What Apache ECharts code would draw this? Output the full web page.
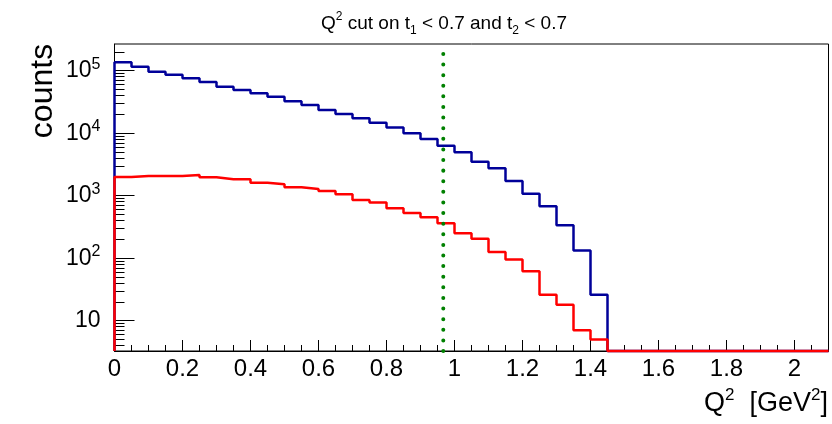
<!DOCTYPE html>
<html>
<head>
<meta charset="utf-8">
<title>Q2 cut</title>
<script src="https://cdn.jsdelivr.net/npm/echarts@6/dist/echarts.min.js"></script>
<style>
html, body { margin: 0; padding: 0; background: #fff; }
#chart { width: 832px; height: 424px; }
</style>
</head>
<body>
<div id="chart"></div>
<script>
// Q^2 histograms, 42 bins of 0.05 GeV^2 from 0 to 2.1
const binWidth = 0.05
const allCounts = [
  136000, 116000, 96400, 86300, 75500, 65900, 55400, 49100, 43500, 38400,
  32400, 28300, 23500, 20300, 17300, 14700, 12300, 10000, 8070, 6310,
  4940, 3500, 2740, 1720, 1076, 676, 336, 132, 26, 0,
  0, 0, 0, 0, 0, 0, 0, 0, 0, 0, 0, 0
]
const cutCounts = [
  1990, 2065, 2065, 2065, 2140, 1967, 1828, 1828, 1614, 1521,
  1361, 1279, 1188, 1052, 853, 778, 628, 528, 451, 361,
  250, 205, 126, 95, 62, 26, 18, 7, 5, 0,
  0, 0, 0, 0, 0, 0, 0, 0, 0, 0, 0, 0
]
const cutValue = [0.967]
const xMajorTicks = [0, 0.2, 0.4, 0.6, 0.8, 1, 1.2, 1.4, 1.6, 1.8, 2]
const yMajorTicks = [10, 100, 1000, 10000, 100000]
const yRange = [3.27, 267000]
const xRange = [0, 2.1]

const xMinorTicks = []
for (let i = 0; i <= 42; i++) xMinorTicks.push(+(i * binWidth).toFixed(2))
const yMinorTicks = []
for (let d = 1; d <= 100000; d *= 10) {
  for (let k = 2; k <= 9; k++) yMinorTicks.push(k * d)
}

const font = 'Liberation Sans, Arial, sans-serif'

// turn bin contents into a step outline (empty bins sit on the frame bottom)
function stepData (counts) {
  const floor = yRange[0]
  const pts = [[0, floor]]
  counts.forEach((c, i) => {
    pts.push([+(i * binWidth).toFixed(2), c > 0 ? c : floor])
  })
  const last = counts[counts.length - 1]
  pts.push([+(counts.length * binWidth).toFixed(2), last > 0 ? last : floor])
  return pts
}

const chart = echarts.init(document.getElementById('chart'))

const option = {
  animation: false,
  grid: {
    left: 114.5,
    right: 3.5,
    top: 44,
    bottom: 73,
    show: true,
    borderColor: '#000',
    borderWidth: 1
  },
  graphic: [
    {
      type: 'text',
      x: 444,
      y: 24,
      style: {
        text: '{a|Q}{p|2}{a| cut on t}{d|1}{a| < 0.7 and t}{d|2}{a| < 0.7}',
        align: 'center',
        verticalAlign: 'middle',
        rich: {
          a: { fontFamily: font, fontSize: 19, lineHeight: 26, fill: '#000' },
          p: { fontFamily: font, fontSize: 12, lineHeight: 16, verticalAlign: 'top', fill: '#000' },
          d: { fontFamily: font, fontSize: 12, lineHeight: 14, verticalAlign: 'bottom', fill: '#000' }
        }
      }
    },
    {
      type: 'text',
      x: 43,
      y: 91,
      rotation: Math.PI / 2,
      style: {
        text: 'counts',
        fontFamily: font,
        fontSize: 32,
        fill: '#000',
        align: 'center',
        verticalAlign: 'middle'
      }
    },
    {
      type: 'text',
      x: 828,
      y: 404,
      style: {
        text: '{a|Q}{p|2}{a|  [GeV}{p|2}{a|]}',
        align: 'right',
        verticalAlign: 'middle',
        rich: {
          a: { fontFamily: font, fontSize: 27, lineHeight: 34, fill: '#000' },
          p: { fontFamily: font, fontSize: 17, lineHeight: 21, verticalAlign: 'top', fill: '#000' }
        }
      }
    }
  ],
  xAxis: [
    {
      type: 'value',
      min: xRange[0],
      max: xRange[1],
      axisLine: { lineStyle: { color: '#000', width: 1 } },
      axisTick: { inside: true, length: 11, customValues: xMajorTicks, lineStyle: { color: '#000' } },
      axisLabel: {
        customValues: xMajorTicks,
        margin: 6,
        color: '#000',
        fontFamily: font,
        fontSize: 24
      },
      splitLine: { show: false }
    },
    {
      type: 'value',
      position: 'bottom',
      min: xRange[0],
      max: xRange[1],
      axisLine: { show: false },
      axisTick: { inside: true, length: 6, customValues: xMinorTicks, lineStyle: { color: '#000' } },
      axisLabel: { show: false },
      splitLine: { show: false }
    }
  ],
  yAxis: [
    {
      type: 'log',
      logBase: 10,
      position: 'left',
      min: yRange[0],
      max: yRange[1],
      axisLine: { show: true, lineStyle: { color: '#000', width: 1 } },
      axisTick: { inside: true, length: 20, customValues: yMajorTicks, lineStyle: { color: '#000' } },
      axisLabel: {
        customValues: yMajorTicks,
        margin: 14,
        formatter (v) {
          const p = Math.round(Math.log10(v))
          return p === 1 ? '{b|10}' : '{b|10}{s|' + p + '}'
        },
        rich: {
          b: { fontFamily: font, fontSize: 23, lineHeight: 29, color: '#000' },
          s: { fontFamily: font, fontSize: 16, lineHeight: 17, verticalAlign: 'top', color: '#000' }
        }
      },
      splitLine: { show: false }
    },
    {
      type: 'log',
      logBase: 10,
      position: 'left',
      min: yRange[0],
      max: yRange[1],
      axisLine: { show: false },
      axisTick: { inside: true, length: 10, customValues: yMinorTicks, lineStyle: { color: '#000' } },
      axisLabel: { show: false },
      splitLine: { show: false }
    }
  ],
  series: [
    {
      name: 'all',
      type: 'line',
      step: 'end',
      symbol: 'none',
      clip: false,
      data: stepData(allCounts),
      lineStyle: { color: '#000099', width: 2.5 },
      z: 2
    },
    {
      name: 'cut',
      type: 'line',
      step: 'end',
      symbol: 'none',
      clip: false,
      data: stepData(cutCounts),
      lineStyle: { color: '#ff0000', width: 2.5 },
      z: 3
    },
    {
      name: 'Q2 cut',
      type: 'line',
      symbol: 'none',
      data: [[cutValue[0], yRange[0]], [cutValue[0], yRange[1]]],
      lineStyle: { color: '#008000', width: 4, type: [0.01, 10.6], cap: 'round' },
      z: 4
    }
  ]
}

chart.setOption(option)
window.addEventListener('resize', () => chart.resize())
</script>
</body>
</html>
